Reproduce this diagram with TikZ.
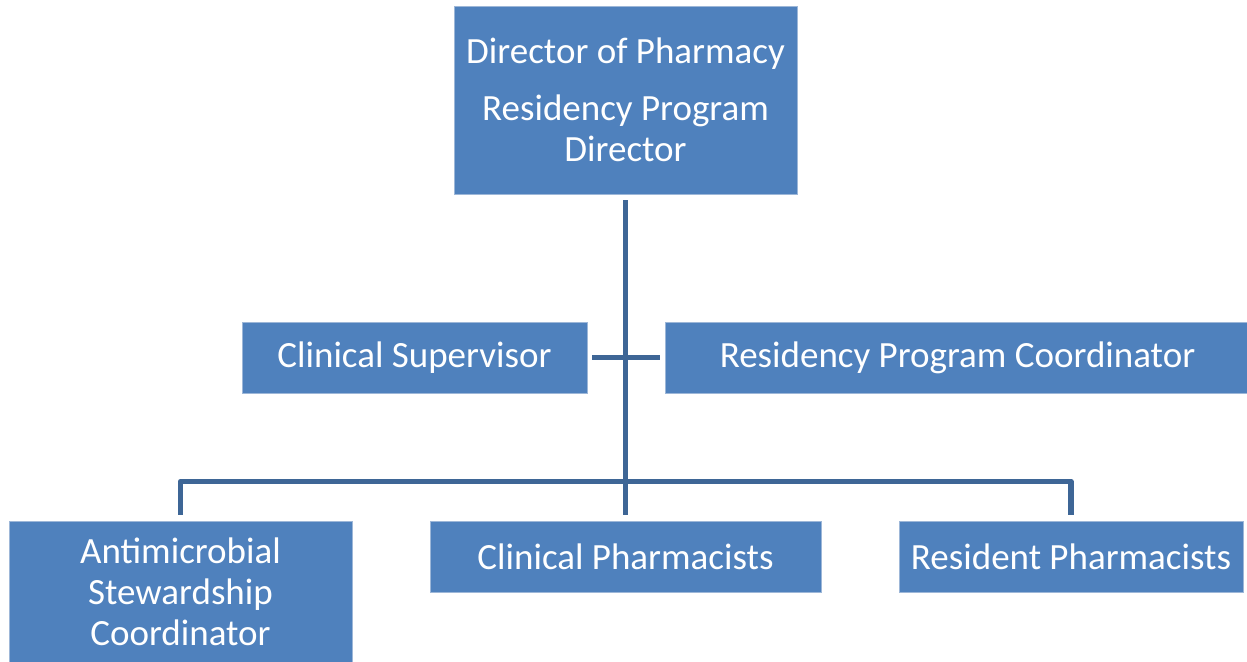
\documentclass[tikz,border=0pt]{standalone}
\usepackage{fontspec}
\setmainfont{Carlito}
\definecolor{boxblue}{HTML}{4F81BD}
\definecolor{edgeblue}{HTML}{9DB7D8}
\definecolor{linkblue}{HTML}{3E6696}
\begin{document}
\begin{tikzpicture}[x=1pt,y=1pt,
  orgbox/.style={rectangle, fill=boxblue, draw=edgeblue, line width=0.6pt, text=white, align=center, inner sep=0pt, font=\fontsize{37}{41}\selectfont},
  link/.style={draw=linkblue, line width=5.5pt, line join=round}]
\useasboundingbox (0,0) rectangle (1247,661);
\clip (0,0) rectangle (1247,661);
\node[orgbox, minimum width=343pt, minimum height=188pt] (dir) at (625.5,561) {Director of Pharmacy\\[16pt]Residency Program\\Director};
\node[orgbox, minimum width=345pt, minimum height=71pt] (cs) at (414.5,303.5) {Clinical Supervisor};
\node[orgbox, minimum width=585pt, minimum height=71pt] (rpc) at (957.5,303.5) {Residency Program Coordinator};
\node[orgbox, minimum width=343pt, minimum height=142pt] (asc) at (180.5,69) {Antimicrobial\\Stewardship\\Coordinator};
\node[orgbox, minimum width=391pt, minimum height=71pt] (cp) at (625.5,104.5) {Clinical Pharmacists};
\node[orgbox, minimum width=344pt, minimum height=71pt] (rp) at (1071,104.5) {Resident Pharmacists};
\coordinate (top) at ([yshift=-6pt]dir.south);
\coordinate (bus) at (625.5,179.5);
\coordinate (csend) at ([xshift=5pt]cs.east);
\coordinate (rpcend) at ([xshift=-5pt]rpc.west);
\draw[link] (top) -- ([yshift=6pt]cp.north);
\draw[link] (csend) -- (rpcend);
\draw[link] ([yshift=6pt]asc.north) |- (bus) -| ([yshift=6pt]rp.north);
\end{tikzpicture}
\end{document}
